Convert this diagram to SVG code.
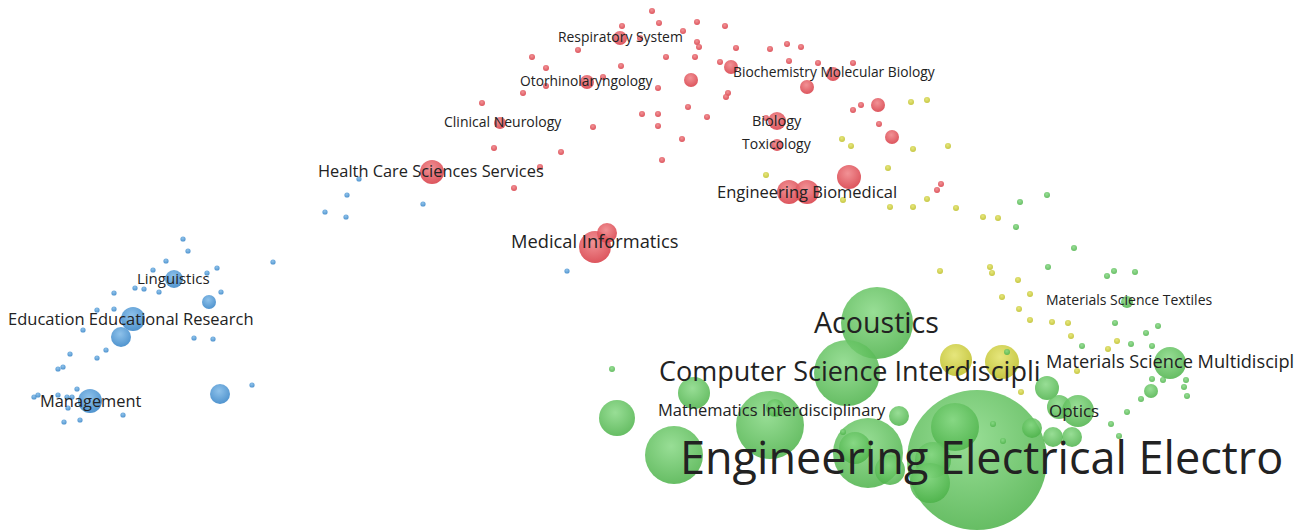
<svg xmlns="http://www.w3.org/2000/svg" width="1311" height="531" viewBox="0 0 1311 531">
<defs>
<radialGradient id="gR" cx="0.45" cy="0.35" r="0.65"><stop offset="0" stop-color="#f0868a"/><stop offset="1" stop-color="#d9434c"/></radialGradient>
<radialGradient id="gB" cx="0.45" cy="0.35" r="0.65"><stop offset="0" stop-color="#82bbe8"/><stop offset="1" stop-color="#3d88c9"/></radialGradient>
<radialGradient id="gG" cx="0.45" cy="0.35" r="0.65"><stop offset="0" stop-color="#86d883"/><stop offset="1" stop-color="#4cb249"/></radialGradient>
<radialGradient id="gY" cx="0.45" cy="0.35" r="0.65"><stop offset="0" stop-color="#e3e36e"/><stop offset="1" stop-color="#c0c12f"/></radialGradient>
<style>
.r{fill:url(#gR);fill-opacity:0.9}
.b{fill:url(#gB);fill-opacity:0.9}
.g{fill:url(#gG);fill-opacity:0.85}
.y{fill:url(#gY);fill-opacity:0.9}
.lbl{font-family:"Open Sans","DejaVu Sans",sans-serif;fill:#222}
</style>
</defs>
<rect width="1311" height="531" fill="#ffffff"/>

<g id="cluster-blue">
<circle class="b" cx="183" cy="239" r="2.6"/><circle class="b" cx="188" cy="251" r="2.6"/><circle class="b" cx="166" cy="261" r="2.6"/><circle class="b" cx="273" cy="262" r="2.6"/><circle class="b" cx="153" cy="270" r="2.6"/><circle class="b" cx="217" cy="268" r="2.6"/><circle class="b" cx="207" cy="273" r="2.6"/><circle class="b" cx="135" cy="288" r="2.6"/><circle class="b" cx="144" cy="289" r="2.6"/><circle class="b" cx="159" cy="292" r="2.6"/><circle class="b" cx="114" cy="293" r="2.6"/><circle class="b" cx="221" cy="292" r="2.6"/><circle class="b" cx="97" cy="310" r="2.6"/><circle class="b" cx="114" cy="309" r="2.6"/><circle class="b" cx="83" cy="330" r="2.6"/><circle class="b" cx="194" cy="338" r="2.6"/><circle class="b" cx="213" cy="339" r="2.6"/><circle class="b" cx="106" cy="350" r="2.6"/><circle class="b" cx="70" cy="354" r="2.6"/><circle class="b" cx="97" cy="358" r="2.6"/><circle class="b" cx="63" cy="367" r="2.6"/><circle class="b" cx="58" cy="369" r="2.6"/><circle class="b" cx="252" cy="385" r="2.6"/><circle class="b" cx="77" cy="389" r="2.6"/><circle class="b" cx="34" cy="397" r="2.6"/><circle class="b" cx="38" cy="395" r="2.6"/><circle class="b" cx="58" cy="395" r="2.6"/><circle class="b" cx="67" cy="397" r="2.6"/><circle class="b" cx="72" cy="397" r="2.6"/><circle class="b" cx="68" cy="408" r="2.6"/><circle class="b" cx="123" cy="415" r="2.6"/><circle class="b" cx="64" cy="422" r="2.6"/><circle class="b" cx="80" cy="420" r="2.6"/><circle class="b" cx="359" cy="179" r="2.6"/><circle class="b" cx="347" cy="195" r="2.6"/><circle class="b" cx="325" cy="212" r="2.6"/><circle class="b" cx="346" cy="217" r="2.6"/><circle class="b" cx="423" cy="204" r="2.6"/><circle class="b" cx="567" cy="271" r="2.6"/>
<circle class="b" cx="174" cy="279" r="9"/><circle class="b" cx="209" cy="302" r="7"/><circle class="b" cx="133" cy="319" r="12"/><circle class="b" cx="121" cy="337" r="10"/><circle class="b" cx="220" cy="394" r="10"/><circle class="b" cx="90" cy="401" r="12"/>
</g>

<g id="cluster-red">
<circle class="r" cx="652" cy="11" r="3"/><circle class="r" cx="622" cy="26" r="3"/><circle class="r" cx="659" cy="23" r="3"/><circle class="r" cx="683" cy="31" r="3"/><circle class="r" cx="697" cy="22" r="3"/><circle class="r" cx="725" cy="26" r="3"/><circle class="r" cx="640" cy="38" r="3"/><circle class="r" cx="578" cy="50" r="3"/><circle class="r" cx="532" cy="57" r="3"/><circle class="r" cx="621" cy="66" r="3"/><circle class="r" cx="666" cy="57" r="3"/><circle class="r" cx="695" cy="57" r="3"/><circle class="r" cx="697" cy="42" r="3"/><circle class="r" cx="699" cy="47" r="3"/><circle class="r" cx="736" cy="48" r="3"/><circle class="r" cx="770" cy="49" r="3"/><circle class="r" cx="787" cy="44" r="3"/><circle class="r" cx="801" cy="47" r="3"/><circle class="r" cx="720" cy="62" r="3"/><circle class="r" cx="789" cy="61" r="3"/><circle class="r" cx="818" cy="63" r="3"/><circle class="r" cx="853" cy="63" r="3"/><circle class="r" cx="546" cy="68" r="3"/><circle class="r" cx="603" cy="77" r="3"/><circle class="r" cx="546" cy="86" r="3"/><circle class="r" cx="523" cy="93" r="3"/><circle class="r" cx="658" cy="88" r="3"/><circle class="r" cx="728" cy="93" r="3"/><circle class="r" cx="726" cy="97" r="3"/><circle class="r" cx="482" cy="103" r="3"/><circle class="r" cx="642" cy="114" r="3"/><circle class="r" cx="658" cy="114" r="3"/><circle class="r" cx="658" cy="126" r="3"/><circle class="r" cx="688" cy="107" r="3"/><circle class="r" cx="707" cy="117" r="3"/><circle class="r" cx="593" cy="127" r="3"/><circle class="r" cx="494" cy="148" r="3"/><circle class="r" cx="561" cy="152" r="3"/><circle class="r" cx="682" cy="139" r="3"/><circle class="r" cx="662" cy="160" r="3"/><circle class="r" cx="540" cy="167" r="3"/><circle class="r" cx="514" cy="188" r="3"/><circle class="r" cx="853" cy="110" r="3"/><circle class="r" cx="861" cy="105" r="3"/><circle class="r" cx="879" cy="124" r="3"/><circle class="r" cx="941" cy="184" r="3"/><circle class="r" cx="937" cy="190" r="3"/><circle class="r" cx="766" cy="118" r="3"/>
<circle class="r" cx="620" cy="38" r="7"/><circle class="r" cx="587" cy="82" r="7"/><circle class="r" cx="691" cy="80" r="7"/><circle class="r" cx="500" cy="123" r="6"/><circle class="r" cx="731" cy="67" r="7"/><circle class="r" cx="833" cy="74" r="7"/><circle class="r" cx="807" cy="87" r="7"/><circle class="r" cx="777" cy="121" r="9"/><circle class="r" cx="777" cy="145" r="6"/><circle class="r" cx="878" cy="105" r="7"/><circle class="r" cx="892" cy="137" r="7"/><circle class="r" cx="849" cy="177" r="12"/><circle class="r" cx="789" cy="192" r="12"/><circle class="r" cx="807" cy="192" r="12"/><circle class="r" cx="432" cy="172" r="12"/><circle class="r" cx="595" cy="247" r="16"/><circle class="r" cx="607" cy="233" r="10"/>
</g>

<g id="cluster-yellow">
<circle class="y" cx="911" cy="102" r="3"/><circle class="y" cx="927" cy="100" r="3"/><circle class="y" cx="842" cy="139" r="3"/><circle class="y" cx="851" cy="146" r="3"/><circle class="y" cx="913" cy="149" r="3"/><circle class="y" cx="948" cy="146" r="3"/><circle class="y" cx="766" cy="175" r="3"/><circle class="y" cx="888" cy="168" r="3"/><circle class="y" cx="843" cy="200" r="3"/><circle class="y" cx="890" cy="207" r="3"/><circle class="y" cx="913" cy="207" r="3"/><circle class="y" cx="927" cy="199" r="3"/><circle class="y" cx="956" cy="208" r="3"/><circle class="y" cx="983" cy="217" r="3"/><circle class="y" cx="998" cy="218" r="3"/><circle class="y" cx="940" cy="271" r="3"/><circle class="y" cx="990" cy="267" r="3"/><circle class="y" cx="992" cy="273" r="3"/><circle class="y" cx="1018" cy="280" r="3"/><circle class="y" cx="1002" cy="297" r="3"/><circle class="y" cx="1030" cy="294" r="3"/><circle class="y" cx="1019" cy="309" r="3"/><circle class="y" cx="1030" cy="320" r="3"/><circle class="y" cx="1052" cy="322" r="3"/><circle class="y" cx="1068" cy="323" r="3"/><circle class="y" cx="1071" cy="336" r="3"/><circle class="y" cx="1108" cy="349" r="3"/><circle class="y" cx="1117" cy="341" r="3"/><circle class="y" cx="1077" cy="371" r="3"/><circle class="y" cx="1021" cy="392" r="3"/>
<circle class="y" cx="956" cy="360" r="16"/><circle class="y" cx="1002" cy="362" r="17"/>
</g>

<g id="cluster-green">
<circle class="g" cx="977" cy="460" r="70"/><circle class="g" cx="955" cy="427" r="24"/><circle class="g" cx="933" cy="460" r="18"/><circle class="g" cx="930" cy="483" r="20"/>
<circle class="g" cx="877" cy="323" r="36"/><circle class="g" cx="847" cy="373" r="33"/>
<circle class="g" cx="868" cy="453" r="35"/><circle class="g" cx="855" cy="448" r="16"/><circle class="g" cx="890" cy="470" r="15"/>
<circle class="g" cx="770" cy="425" r="34"/><circle class="g" cx="775" cy="408" r="9"/>
<circle class="g" cx="674" cy="455" r="29"/><circle class="g" cx="617" cy="418" r="18"/><circle class="g" cx="694" cy="393" r="16"/><circle class="g" cx="899" cy="416" r="10"/>
<circle class="g" cx="1047" cy="388" r="12"/><circle class="g" cx="1059" cy="407" r="12"/><circle class="g" cx="1078" cy="411" r="16"/><circle class="g" cx="1032" cy="428" r="10"/><circle class="g" cx="1053" cy="437" r="10"/><circle class="g" cx="1072" cy="437" r="10"/>
<circle class="g" cx="1170" cy="363" r="16"/><circle class="g" cx="1151" cy="391" r="7"/><circle class="g" cx="1127" cy="302" r="6"/>
<circle class="g" cx="1020" cy="202" r="3"/><circle class="g" cx="1047" cy="195" r="3"/><circle class="g" cx="1016" cy="227" r="3"/><circle class="g" cx="1074" cy="248" r="3"/><circle class="g" cx="1048" cy="267" r="3"/><circle class="g" cx="1107" cy="276" r="3"/><circle class="g" cx="1114" cy="271" r="3"/><circle class="g" cx="1135" cy="272" r="3"/><circle class="g" cx="1115" cy="323" r="3"/><circle class="g" cx="1146" cy="333" r="3"/><circle class="g" cx="1158" cy="326" r="3"/><circle class="g" cx="1082" cy="346" r="3"/><circle class="g" cx="1131" cy="344" r="3"/><circle class="g" cx="1152" cy="346" r="3"/><circle class="g" cx="1152" cy="379" r="3"/><circle class="g" cx="1163" cy="380" r="3"/><circle class="g" cx="1186" cy="380" r="3"/><circle class="g" cx="1184" cy="387" r="3"/><circle class="g" cx="1187" cy="396" r="3"/><circle class="g" cx="1141" cy="399" r="3"/><circle class="g" cx="1127" cy="412" r="3"/><circle class="g" cx="1111" cy="424" r="3"/><circle class="g" cx="1119" cy="436" r="3"/><circle class="g" cx="612" cy="369" r="3"/><circle class="g" cx="1007" cy="352" r="3"/><circle class="g" cx="993" cy="424" r="3"/><circle class="g" cx="1003" cy="441" r="3"/><circle class="g" cx="843" cy="432" r="3"/>
</g>

<g id="labels">
<g id="n-management"><text class="lbl" x="40" y="407" font-size="16.4">Management</text></g>
<g id="n-education"><text class="lbl" x="8" y="325" font-size="16.5">Education Educational Research</text></g>
<g id="n-linguistics"><text class="lbl" x="137" y="284" font-size="15">Linguistics</text></g>
<g id="n-healthcare"><text class="lbl" x="318" y="177" font-size="16.4">Health Care Sciences Services</text></g>
<g id="n-medinf"><text class="lbl" x="511" y="248" font-size="18.3">Medical Informatics</text></g>
<g id="n-respiratory"><text class="lbl" x="558" y="42" font-size="13.9">Respiratory System</text></g>
<g id="n-otorhino"><text class="lbl" x="520" y="86" font-size="13.8">Otorhinolaryngology</text></g>
<g id="n-clinneuro"><text class="lbl" x="444" y="127" font-size="14">Clinical Neurology</text></g>
<g id="n-biochem"><text class="lbl" x="733" y="77" font-size="13.8">Biochemistry Molecular Biology</text></g>
<g id="n-biology"><text class="lbl" x="752" y="126" font-size="14.5">Biology</text></g>
<g id="n-toxicology"><text class="lbl" x="742" y="149" font-size="14">Toxicology</text></g>
<g id="n-engbiomed"><text class="lbl" x="717" y="198" font-size="16.5">Engineering Biomedical</text></g>
<g id="n-acoustics"><text class="lbl" x="814" y="333" font-size="28.6">Acoustics</text></g>
<g id="n-compsci"><text class="lbl" x="659" y="381" font-size="27">Computer Science Interdiscipli</text></g>
<g id="n-math"><text class="lbl" x="658" y="416" font-size="16.5">Mathematics Interdisciplinary</text></g>
<g id="n-engelec"><text class="lbl" x="680" y="474" font-size="45">Engineering Electrical Electro</text></g>
<g id="n-textiles"><text class="lbl" x="1046" y="305" font-size="14">Materials Science Textiles</text></g>
<g id="n-matsci"><text class="lbl" x="1046" y="368" font-size="18.2">Materials Science Multidiscipl</text></g>
<g id="n-optics"><text class="lbl" x="1049" y="417" font-size="17">Optics</text></g>
</g>
</svg>
